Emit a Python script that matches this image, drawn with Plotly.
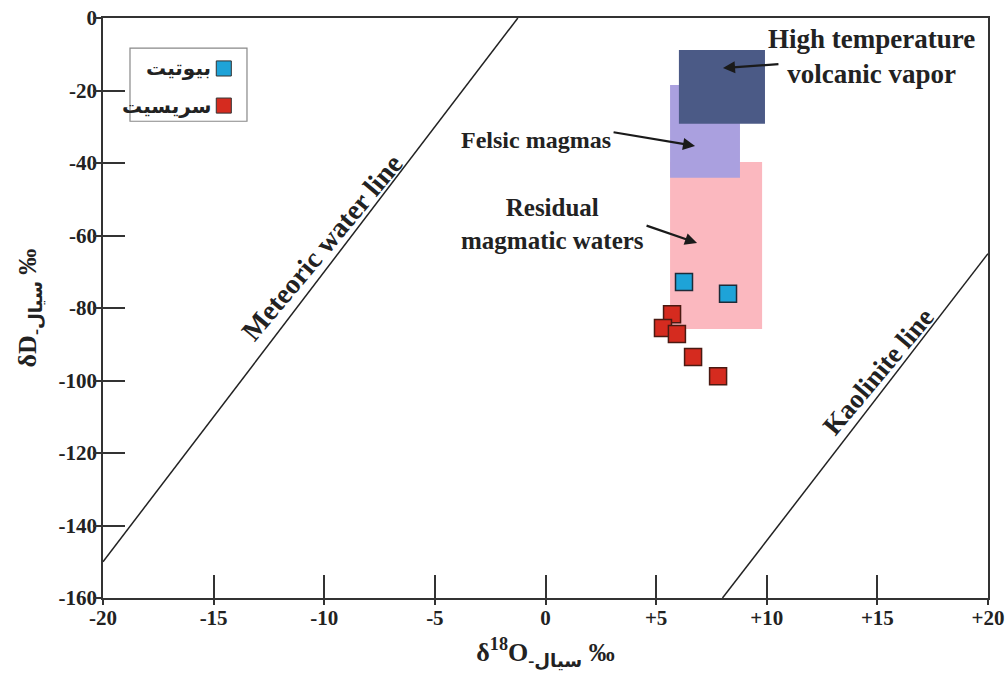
import plotly.graph_objects as go

# ---- data ----
biotite_x = [6.26, 8.25]
biotite_y = [-72.8, -76.1]
sericite_x = [5.72, 5.31, 5.94, 6.67, 7.80]
sericite_y = [-81.7, -85.5, -87.2, -93.5, -98.8]

meteoric_x = [-20, -1.25]
meteoric_y = [-150, 0]
kaolinite_x = [8.0, 20]
kaolinite_y = [-160, -65]

# fields: (x0, x1, y0, y1)
field_names = ["Residual magmatic waters", "Felsic magmas", "High temperature volcanic vapor"]
field_x0 = [5.63, 5.63, 6.03]
field_x1 = [9.79, 8.79, 9.92]
field_y0 = [-85.8, -44.1, -29.2]
field_y1 = [-39.7, -18.5, -8.8]
field_colors = ["#fbb8bf", "#aaa0df", "#4b5a86"]

x_ticks = [-20, -15, -10, -5, 0, 5, 10, 15, 20]
x_labels = ["-20", "-15", "-10", "-5", "0", "+5", "+10", "+15", "+20"]
y_ticks = [0, -20, -40, -60, -80, -100, -120, -140, -160]
y_labels = ["0", "-20", "-40", "-60", "-80", "-100", "-120", "-140", "-160"]

legend_names = ["بیوتیت", "سریسیت"]
legend_colors = ["#1ea3d8", "#d52b1f"]

FONT = "Liberation Serif, Times New Roman, DejaVu Serif, DejaVu Sans"

fig = go.Figure()

# fields
for x0, x1, y0, y1, c in zip(field_x0, field_x1, field_y0, field_y1, field_colors):
    fig.add_shape(type="rect", xref="x", yref="y", x0=x0, x1=x1, y0=y0, y1=y1,
                  fillcolor=c, line=dict(width=0), layer="below")

# lines
fig.add_trace(go.Scatter(x=meteoric_x, y=meteoric_y, mode="lines",
                         line=dict(color="#222", width=1.5), showlegend=False, hoverinfo="skip"))
fig.add_trace(go.Scatter(x=kaolinite_x, y=kaolinite_y, mode="lines",
                         line=dict(color="#222", width=1.5), showlegend=False, hoverinfo="skip"))

# points
fig.add_trace(go.Scatter(x=biotite_x, y=biotite_y, mode="markers", name=legend_names[0],
                         marker=dict(symbol="square", size=17, color=legend_colors[0],
                                     line=dict(color="#1d2b38", width=1.5)), showlegend=False))
fig.add_trace(go.Scatter(x=sericite_x, y=sericite_y, mode="markers", name=legend_names[1],
                         marker=dict(symbol="square", size=17, color=legend_colors[1],
                                     line=dict(color="#4a1a12", width=1.5)), showlegend=False))

# dummy trace for overlay axes
fig.add_trace(go.Scatter(x=[None], y=[None], xaxis="x2", yaxis="y2", showlegend=False))

annots = []
annots.append(dict(x=14.75, y=-10.5, xref="x", yref="y", showarrow=False,
                   text="<b>High temperature<br>volcanic vapor</b>", align="center",
                   font=dict(family=FONT, size=27, color="#222")))
annots.append(dict(x=-0.45, y=-33.6, xref="x", yref="y", showarrow=False,
                   text="<b>Felsic magmas</b>", font=dict(family=FONT, size=24, color="#222")))
annots.append(dict(x=0.3, y=-56.9, xref="x", yref="y", showarrow=False,
                   text="<b>Residual<br>magmatic waters</b>", align="center",
                   font=dict(family=FONT, size=25, color="#222")))
# arrows
for hx, hy, ax, ay in [(8.02, -13.8, 57, -4), (6.76, -35.3, -83, -14), (6.85, -62.1, -52, -18)]:
    annots.append(dict(x=hx, y=hy, xref="x", yref="y", ax=ax, ay=ay, axref="pixel", ayref="pixel",
                       text="", showarrow=True, arrowhead=2, arrowsize=1.1, arrowwidth=2.2,
                       arrowcolor="#1a1a1a"))
# line labels
annots.append(dict(x=-10.1, y=-63.4, xref="x", yref="y", showarrow=False, textangle=-50,
                   text="<b>Meteoric water line</b>", font=dict(family=FONT, size=28, color="#222")))
annots.append(dict(x=15.03, y=-97.7, xref="x", yref="y", showarrow=False, textangle=-50,
                   text="<b>Kaolinite line</b>", font=dict(family=FONT, size=27, color="#222")))

# custom legend (marker to the right of RTL text)
fig.add_shape(type="rect", xref="paper", yref="paper", x0=0.0305, x1=0.1627, y0=0.822, y1=0.948,
              line=dict(color="#888", width=1.2), fillcolor="white")
leg_y = [0.913, 0.849]
for name, col, ly in zip(legend_names, legend_colors, leg_y):
    fig.add_shape(type="rect", xref="paper", yref="paper", x0=0.128, x1=0.145,
                  y0=ly - 0.013, y1=ly + 0.013, fillcolor=col, line=dict(color="#333", width=1))
    annots.append(dict(x=0.124, y=ly, xref="paper", yref="paper", xanchor="right", yanchor="middle",
                       showarrow=False, text="<b>" + name + "</b>",
                       font=dict(family="DejaVu Sans", size=20, color="#222")))

axfont = dict(family=FONT, size=21, color="#222")
fig.update_layout(
    width=1007, height=673,
    margin=dict(l=103, r=19, t=18, b=75),
    paper_bgcolor="white", plot_bgcolor="white",
    showlegend=False,
    annotations=annots,
    xaxis=dict(range=[-20, 20], tickvals=x_ticks, ticktext=["<b>%s</b>" % t for t in x_labels],
               ticks="inside", ticklen=23, tickwidth=1.5, tickcolor="#333",
               showline=True, linecolor="#333", linewidth=1.8, mirror=True,
               showgrid=False, zeroline=False, tickfont=axfont, automargin=False,
               ticklabeloverflow="allow",
               title=dict(text="<b>δ<sup>18</sup>O<sub>-سیال</sub> ‰</b>",
                          font=dict(family=FONT, size=26, color="#222"), standoff=14)),
    yaxis=dict(range=[-160, 0], tickvals=y_ticks, ticktext=["<b>%s</b>" % t for t in y_labels],
               ticks="inside", ticklen=22, tickwidth=1.5, tickcolor="#333",
               showline=True, linecolor="#333", linewidth=1.8, mirror=True,
               showgrid=False, zeroline=False, tickfont=axfont, automargin=False,
               ticklabeloverflow="allow",
               title=dict(text="<b>δD<sub>-سیال</sub> ‰</b>",
                          font=dict(family=FONT, size=26, color="#222"), standoff=14)),
    xaxis2=dict(overlaying="x", matches="x", tickvals=x_ticks, ticks="outside", ticklen=6,
                tickwidth=1.5, tickcolor="#333", showticklabels=False, showgrid=False,
                zeroline=False, showline=False, automargin=False),
    yaxis2=dict(overlaying="y", matches="y", tickvals=y_ticks, ticks="outside", ticklen=9,
                tickwidth=1.5, tickcolor="#333", showticklabels=False, showgrid=False,
                zeroline=False, showline=False, automargin=False),
)

fig.write_html("out.html", config={"displayModeBar": False},
               post_script="document.body.style.margin='0';")
